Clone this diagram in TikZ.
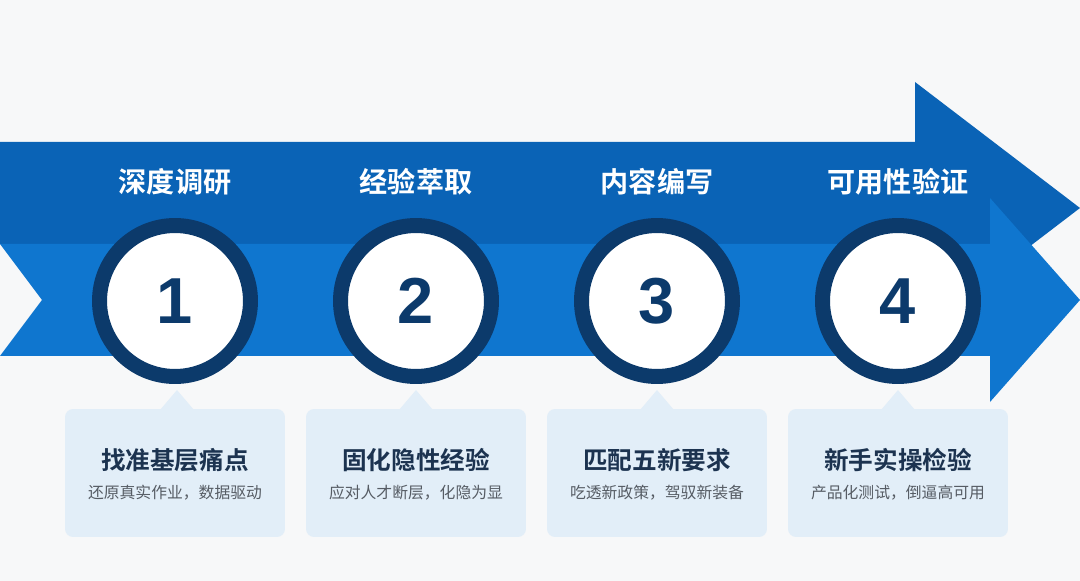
\documentclass[tikz,border=0pt]{standalone}
\usepackage{fontspec}
\setmainfont{Liberation Sans}
\newfontfamily\cjk[BoldFont={Noto Sans CJK SC Bold}]{Noto Sans CJK SC}
\usetikzlibrary{positioning}
\definecolor{bgfill}{HTML}{F7F8F9}
\definecolor{toparrow}{HTML}{0A63B6}
\definecolor{lowarrow}{HTML}{0F76CF}
\definecolor{ring}{HTML}{0C3A6B}
\definecolor{boxfill}{HTML}{E2EEF8}
\definecolor{navy}{HTML}{1C3350}
\definecolor{subgray}{HTML}{565C64}
\tikzset{%
	stepcircle/.style = {draw=ring, line width=0.3cm, fill=white, circle, minimum size=3.02cm, inner sep=0pt}, % Number ring
	steptitle/.style  = {text=white, font=\cjk\bfseries\fontsize{16}{18}\selectfont},
	stepnum/.style    = {text=ring, font=\bfseries\fontsize{37}{40}\selectfont},
	callout/.style    = {fill=boxfill, rounded corners=0.16cm, minimum width=4.4cm, minimum height=2.56cm},
	pointer/.style    = {fill=boxfill},
	boxtitle/.style   = {text=navy, font=\cjk\bfseries\fontsize{14}{16}\selectfont},
	boxtext/.style    = {text=subgray, font=\cjk\fontsize{9}{11}\selectfont}
}

\begin{document}
\begin{tikzpicture}[x=0.02cm, y=-0.02cm]
	% Background
	\fill[bgfill] (0,0) rectangle (1080,581);

	% Drawing the two arrows
	\fill[toparrow] (0,142) -- (915,142) -- (915,82) -- (1080,208) -- (915,334) -- (915,244) -- (0,244) -- cycle;
	\fill[lowarrow] (0,244) -- (990,244) -- (990,198) -- (1080,300) -- (990,402) -- (990,356) -- (0,356) -- (42,300) -- cycle;

	\draw % Drawing the steps
	node at (175, 182) [steptitle] (t1) {深度调研}
	node at (416, 182) [steptitle] (t2) {经验萃取}
	node at (657, 182) [steptitle] (t3) {内容编写}
	node at (898, 182) [steptitle] (t4) {可用性验证}
	node at (175, 301) [stepcircle] (c1) {}
	node at (416, 301) [stepcircle] (c2) {}
	node at (657, 301) [stepcircle] (c3) {}
	node at (898, 301) [stepcircle] (c4) {}
	node at (175, 301) [stepnum] (n1) {1}
	node at (416, 301) [stepnum] (n2) {2}
	node at (657, 301) [stepnum] (n3) {3}
	node at (898, 301) [stepnum] (n4) {4}
	;

	% Drawing the callouts
	\draw
	node at (175, 473) [callout] (b1) {}
	node at (416, 473) [callout] (b2) {}
	node at (657, 473) [callout] (b3) {}
	node at (898, 473) [callout] (b4) {}
	node at (177, 390) [coordinate] (p1) {}
	node at (416, 390) [coordinate] (p2) {}
	node at (657, 390) [coordinate] (p3) {}
	node at (898, 390) [coordinate] (p4) {}
	;
	\fill[pointer] (p1) -- ++(-17,20) -- ++(34,0) -- cycle;
	\fill[pointer] (p2) -- ++(-17,20) -- ++(34,0) -- cycle;
	\fill[pointer] (p3) -- ++(-17,20) -- ++(34,0) -- cycle;
	\fill[pointer] (p4) -- ++(-17,20) -- ++(34,0) -- cycle;

	\draw
	node at (175, 460) [boxtitle] (h1) {找准基层痛点}
	node at (416, 460) [boxtitle] (h2) {固化隐性经验}
	node at (657, 460) [boxtitle] (h3) {匹配五新要求}
	node at (898, 460) [boxtitle] (h4) {新手实操检验}
	node at (175, 493) [boxtext] (s1) {还原真实作业，数据驱动}
	node at (416, 493) [boxtext] (s2) {应对人才断层，化隐为显}
	node at (657, 493) [boxtext] (s3) {吃透新政策，驾驭新装备}
	node at (898, 493) [boxtext] (s4) {产品化测试，倒逼高可用}
	;
\end{tikzpicture}
\end{document}
